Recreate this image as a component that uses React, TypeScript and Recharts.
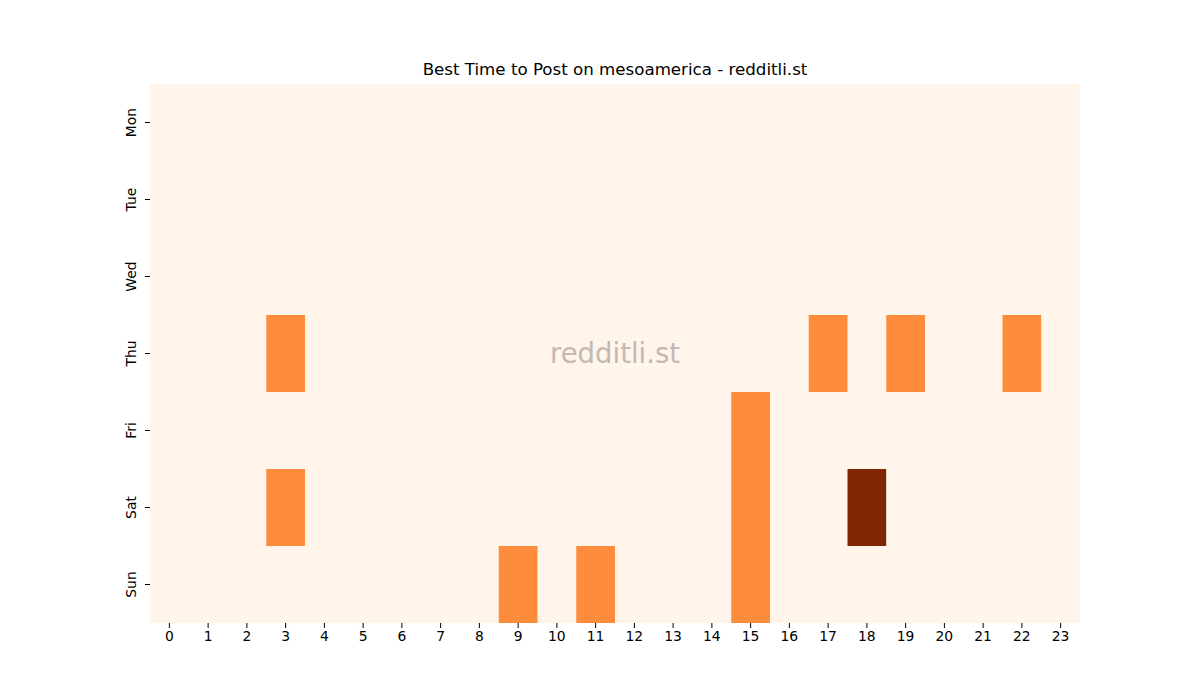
import React from "react";
import { ScatterChart, Scatter, XAxis, YAxis } from "recharts";

// hours of the day along the x axis
const hours = Array.from({ length: 24 }, (_, i) => i);
const days = ["Mon", "Tue", "Wed", "Thu", "Fri", "Sat", "Sun"];

// post scores per hour (0..23) for each day
const mon = [0, 0, 0, 0, 0, 0, 0, 0, 0, 0, 0, 0, 0, 0, 0, 0, 0, 0, 0, 0, 0, 0, 0, 0];
const tue = [0, 0, 0, 0, 0, 0, 0, 0, 0, 0, 0, 0, 0, 0, 0, 0, 0, 0, 0, 0, 0, 0, 0, 0];
const wed = [0, 0, 0, 0, 0, 0, 0, 0, 0, 0, 0, 0, 0, 0, 0, 0, 0, 0, 0, 0, 0, 0, 0, 0];
const thu = [0, 0, 0, 1, 0, 0, 0, 0, 0, 0, 0, 0, 0, 0, 0, 0, 0, 1, 0, 1, 0, 0, 1, 0];
const fri = [0, 0, 0, 0, 0, 0, 0, 0, 0, 0, 0, 0, 0, 0, 0, 1, 0, 0, 0, 0, 0, 0, 0, 0];
const sat = [0, 0, 0, 1, 0, 0, 0, 0, 0, 0, 0, 0, 0, 0, 0, 1, 0, 0, 2, 0, 0, 0, 0, 0];
const sun = [0, 0, 0, 0, 0, 0, 0, 0, 0, 1, 0, 1, 0, 0, 0, 1, 0, 0, 0, 0, 0, 0, 0, 0];
const grid = [mon, tue, wed, thu, fri, sat, sun];

// Oranges colormap stops for 0, 1, 2
const palette = ["#fff5eb", "#fd8d3c", "#7f2704"];

const W = 1200;
const H = 700;
const xAxisHeight = 30;
const yAxisWidth = 150;
const margin = { top: 84, right: 120, bottom: 77 - xAxisHeight, left: 0 };
const plotW = W - margin.left - margin.right - yAxisWidth;
const plotH = H - margin.top - margin.bottom - xAxisHeight;
const cellW = plotW / hours.length;
const cellH = plotH / days.length;

const cells = grid.flatMap((row, d) => row.map((v, h) => ({ hour: h, day: d, value: v })));

const HeatCell = (props: any) => {
  const { cx, cy, payload } = props;
  return (
    <rect
      x={cx - cellW / 2}
      y={cy - cellH / 2}
      width={cellW + 0.5}
      height={cellH + 0.5}
      fill={palette[payload.value]}
      stroke="none"
    />
  );
};

const DayTick = (props: any) => {
  const { x, y, payload } = props;
  const tx = x - 7;
  return (
    <text
      x={tx}
      y={y}
      transform={`rotate(-90, ${tx}, ${y})`}
      textAnchor="middle"
      fontSize={13.9}
      fill="#000"
    >
      {days[payload.value]}
    </text>
  );
};

export default function App() {
  return (
    <div style={{ position: "absolute", left: 0, top: 0, width: W, height: H, background: "#fff", fontFamily: "'DejaVu Sans', sans-serif" }}>
      <div style={{ position: "absolute", top: 60, left: yAxisWidth, width: plotW, textAlign: "center", fontSize: 16.67, lineHeight: "20px", color: "#000" }}>
        Best Time to Post on mesoamerica - redditli.st
      </div>
      <ScatterChart width={W} height={H} margin={margin}>
        <XAxis
          type="number"
          dataKey="hour"
          domain={[-0.5, 23.5]}
          ticks={hours}
          interval={0}
          height={xAxisHeight}
          axisLine={false}
          tickLine={{ stroke: "#000" }}
          tickSize={5}
          tickMargin={3}
          tick={{ fontSize: 13.9, fill: "#000" }}
          allowDataOverflow
        />
        <YAxis
          type="number"
          dataKey="day"
          domain={[-0.5, 6.5]}
          ticks={[0, 1, 2, 3, 4, 5, 6]}
          interval={0}
          reversed
          width={yAxisWidth}
          axisLine={false}
          tickLine={{ stroke: "#000" }}
          tickSize={5}
          tick={<DayTick />}
          allowDataOverflow
        />
        <Scatter data={cells} shape={<HeatCell />} isAnimationActive={false} />
      </ScatterChart>
      <div
        style={{
          position: "absolute",
          left: yAxisWidth,
          top: margin.top + plotH / 2 - 19,
          width: plotW,
          textAlign: "center",
          fontSize: 27.5,
          lineHeight: "36px",
          color: "#c4b8b0",
          pointerEvents: "none",
        }}
      >
        redditli.st
      </div>
    </div>
  );
}
